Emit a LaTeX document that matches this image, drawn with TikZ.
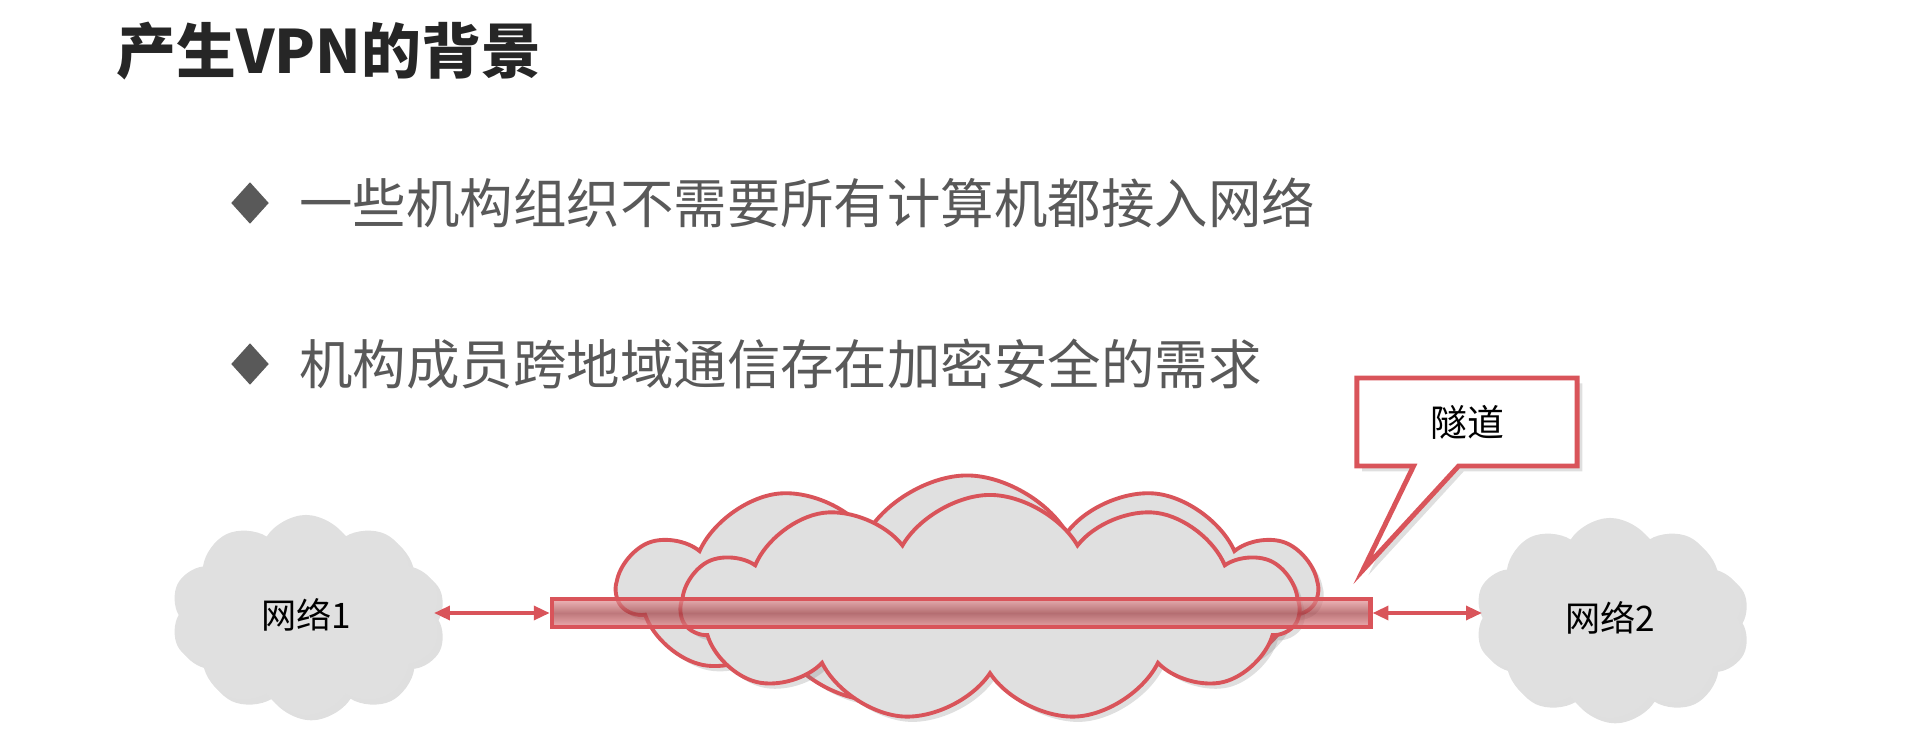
\documentclass[tikz,border=0pt]{standalone}
\usepackage{fontspec}
\setmainfont{Noto Sans CJK SC}
\usetikzlibrary{arrows.meta, positioning, shapes.symbols, shapes.geometric, shapes.callouts, shadows}

\definecolor{TunnelRed}{HTML}{D9545A}
\definecolor{CloudGray}{HTML}{E0E0E0}
\definecolor{BulletGray}{HTML}{595959}
\definecolor{TitleBlack}{HTML}{262626}

\tikzset{
  netcloud/.style={cloud, cloud puffs=10, cloud puff arc=115, cloud ignores aspect,
    fill=CloudGray, inner sep=0pt, minimum width=2.7cm, minimum height=2.0cm,
    drop shadow={opacity=0.25, shadow xshift=1.5pt, shadow yshift=-1.5pt},
    font=\fontsize{10}{12}\selectfont},
  bigcloud/.style={cloud, cloud puffs=11, cloud puff arc=120, cloud ignores aspect,
    fill=CloudGray, draw=TunnelRed, line width=1.1pt, inner sep=0pt,
    drop shadow={opacity=0.25, shadow xshift=1.5pt, shadow yshift=-1.5pt}},
  bulletmark/.style={diamond, fill=BulletGray, inner sep=0pt, minimum width=0.38cm, minimum height=0.42cm},
  itemtext/.style={text=BulletGray, inner sep=0pt, font=\fontsize{15.2}{18}\selectfont},
  link/.style={{Triangle[length=4.5pt,width=4pt]}-{Triangle[length=4.5pt,width=4pt]}, TunnelRed, line width=0.9pt},
}

\begin{document}
\begin{tikzpicture}[x=0.01cm, y=-0.01cm]
  \useasboundingbox (0,0) rectangle (1920,751);

  % title and bullet points
  \node[anchor=west, inner sep=0pt, text=TitleBlack, font=\fontsize{17}{20}\selectfont\bfseries] (title) at (116,51) {产生VPN的背景};
  \node[bulletmark] (dia1) at (250,203) {};
  \node[itemtext, right=0.29cm of dia1] (item1) {一些机构组织不需要所有计算机都接入网络};
  \node[bulletmark] (dia2) at (250,364) {};
  \node[itemtext, right=0.29cm of dia2] (item2) {机构成员跨地域通信存在加密安全的需求};

  % the internet in the middle
  \node[bigcloud, minimum width=6.98cm, minimum height=2.29cm] (inetback) at (967,590) {};
  \node[bigcloud, minimum width=6.17cm, minimum height=2.26cm] (inetfront) at (990,608) {};

  % tunnel through it
  \node[cylinder, shape border rotate=0, aspect=0.6, minimum height=8.18cm, minimum width=0.28cm, inner sep=0pt,
    draw=TunnelRed, line width=1.3pt, top color=TunnelRed!60, bottom color=TunnelRed!70,
    middle color=TunnelRed!75!black, fill opacity=0.7] (tunnel) at (960,613) {};

  % the two networks
  \node[netcloud] (net1) at (306,615) {网络1};
  \node[netcloud] (net2) at (1610,618) {网络2};
  \draw[link] (tunnel.west -| net1.east) -- (tunnel.west);
  \draw[link] (tunnel.east) -- (tunnel.east -| net2.west);

  % label
  \coordinate (tip) at (1363,570);
  \node[rectangle callout, callout absolute pointer={(tip)}, callout pointer width=0.45cm,
    draw=TunnelRed, line width=1.4pt, fill=white, minimum width=2.2cm, minimum height=0.88cm,
    drop shadow={opacity=0.25, shadow xshift=1.5pt, shadow yshift=-1.5pt},
    font=\fontsize{10.5}{12}\selectfont] (callout) at (1467,422) {隧道};
\end{tikzpicture}
\end{document}
